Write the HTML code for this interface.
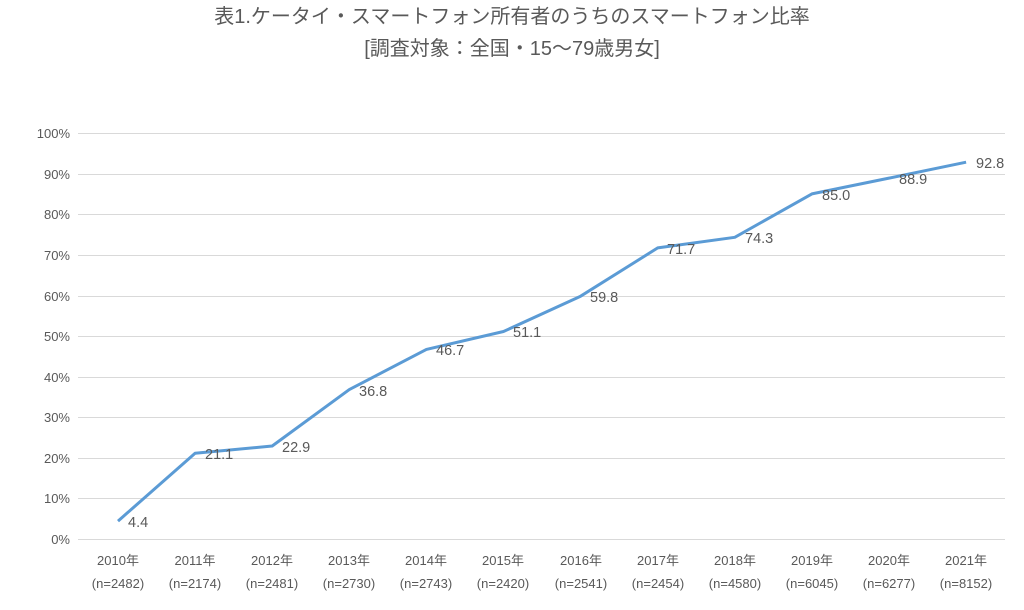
<!DOCTYPE html>
<html><head><meta charset="utf-8"><style>
html,body{margin:0;padding:0;background:#fff;}
svg text{font-family:"Liberation Sans","Noto Sans CJK JP",sans-serif;}
</style></head><body>
<svg width="1024" height="605" xmlns="http://www.w3.org/2000/svg">
<text x="512" y="23" text-anchor="middle" font-size="20" fill="#595959">表1.ケータイ・スマートフォン所有者のうちのスマートフォン比率</text>
<text x="512" y="55" text-anchor="middle" font-size="20" fill="#595959">[調査対象：全国・15～79歳男女]</text>
<g stroke="#d9d9d9" stroke-width="1">
<line x1="78" x2="1005" y1="133.5" y2="133.5"/><line x1="78" x2="1005" y1="174.5" y2="174.5"/>
<line x1="78" x2="1005" y1="214.5" y2="214.5"/><line x1="78" x2="1005" y1="255.5" y2="255.5"/>
<line x1="78" x2="1005" y1="296.5" y2="296.5"/><line x1="78" x2="1005" y1="336.5" y2="336.5"/>
<line x1="78" x2="1005" y1="377.5" y2="377.5"/><line x1="78" x2="1005" y1="417.5" y2="417.5"/>
<line x1="78" x2="1005" y1="458.5" y2="458.5"/><line x1="78" x2="1005" y1="498.5" y2="498.5"/>
<line x1="78" x2="1005" y1="539.5" y2="539.5"/>
</g>
<g font-size="13" fill="#595959" text-anchor="end">
<text x="70" y="138">100%</text><text x="70" y="179">90%</text><text x="70" y="219">80%</text>
<text x="70" y="260">70%</text><text x="70" y="301">60%</text><text x="70" y="341">50%</text>
<text x="70" y="382">40%</text><text x="70" y="422">30%</text><text x="70" y="463">20%</text>
<text x="70" y="503">10%</text><text x="70" y="544">0%</text>
</g>
<polyline fill="none" stroke="#5b9bd5" stroke-width="3" stroke-linejoin="round" points="118,521.1 195.1,453.3 272.2,446 349.3,389.6 426.4,349.4 503.5,331.5 580.6,296.2 657.7,247.9 734.8,237.3 811.9,193.9 889,178.1 966.1,162.2"/>
<g font-size="14.5" fill="#595959">
<text x="128" y="527">4.4</text><text x="205" y="459">21.1</text><text x="282" y="452">22.9</text>
<text x="359" y="396">36.8</text><text x="436" y="355">46.7</text><text x="513" y="337">51.1</text>
<text x="590" y="302">59.8</text><text x="667" y="254">71.7</text><text x="745" y="243">74.3</text>
<text x="822" y="200">85.0</text><text x="899" y="184">88.9</text><text x="976" y="168">92.8</text>
</g>
<g font-size="13" fill="#595959" text-anchor="middle">
<text x="118" y="565">2010年</text><text x="195" y="565">2011年</text><text x="272" y="565">2012年</text>
<text x="349" y="565">2013年</text><text x="426" y="565">2014年</text><text x="503" y="565">2015年</text>
<text x="581" y="565">2016年</text><text x="658" y="565">2017年</text><text x="735" y="565">2018年</text>
<text x="812" y="565">2019年</text><text x="889" y="565">2020年</text><text x="966" y="565">2021年</text>
<text x="118" y="588">(n=2482)</text><text x="195" y="588">(n=2174)</text><text x="272" y="588">(n=2481)</text>
<text x="349" y="588">(n=2730)</text><text x="426" y="588">(n=2743)</text><text x="503" y="588">(n=2420)</text>
<text x="581" y="588">(n=2541)</text><text x="658" y="588">(n=2454)</text><text x="735" y="588">(n=4580)</text>
<text x="812" y="588">(n=6045)</text><text x="889" y="588">(n=6277)</text><text x="966" y="588">(n=8152)</text>
</g>
</svg>
</body></html>
